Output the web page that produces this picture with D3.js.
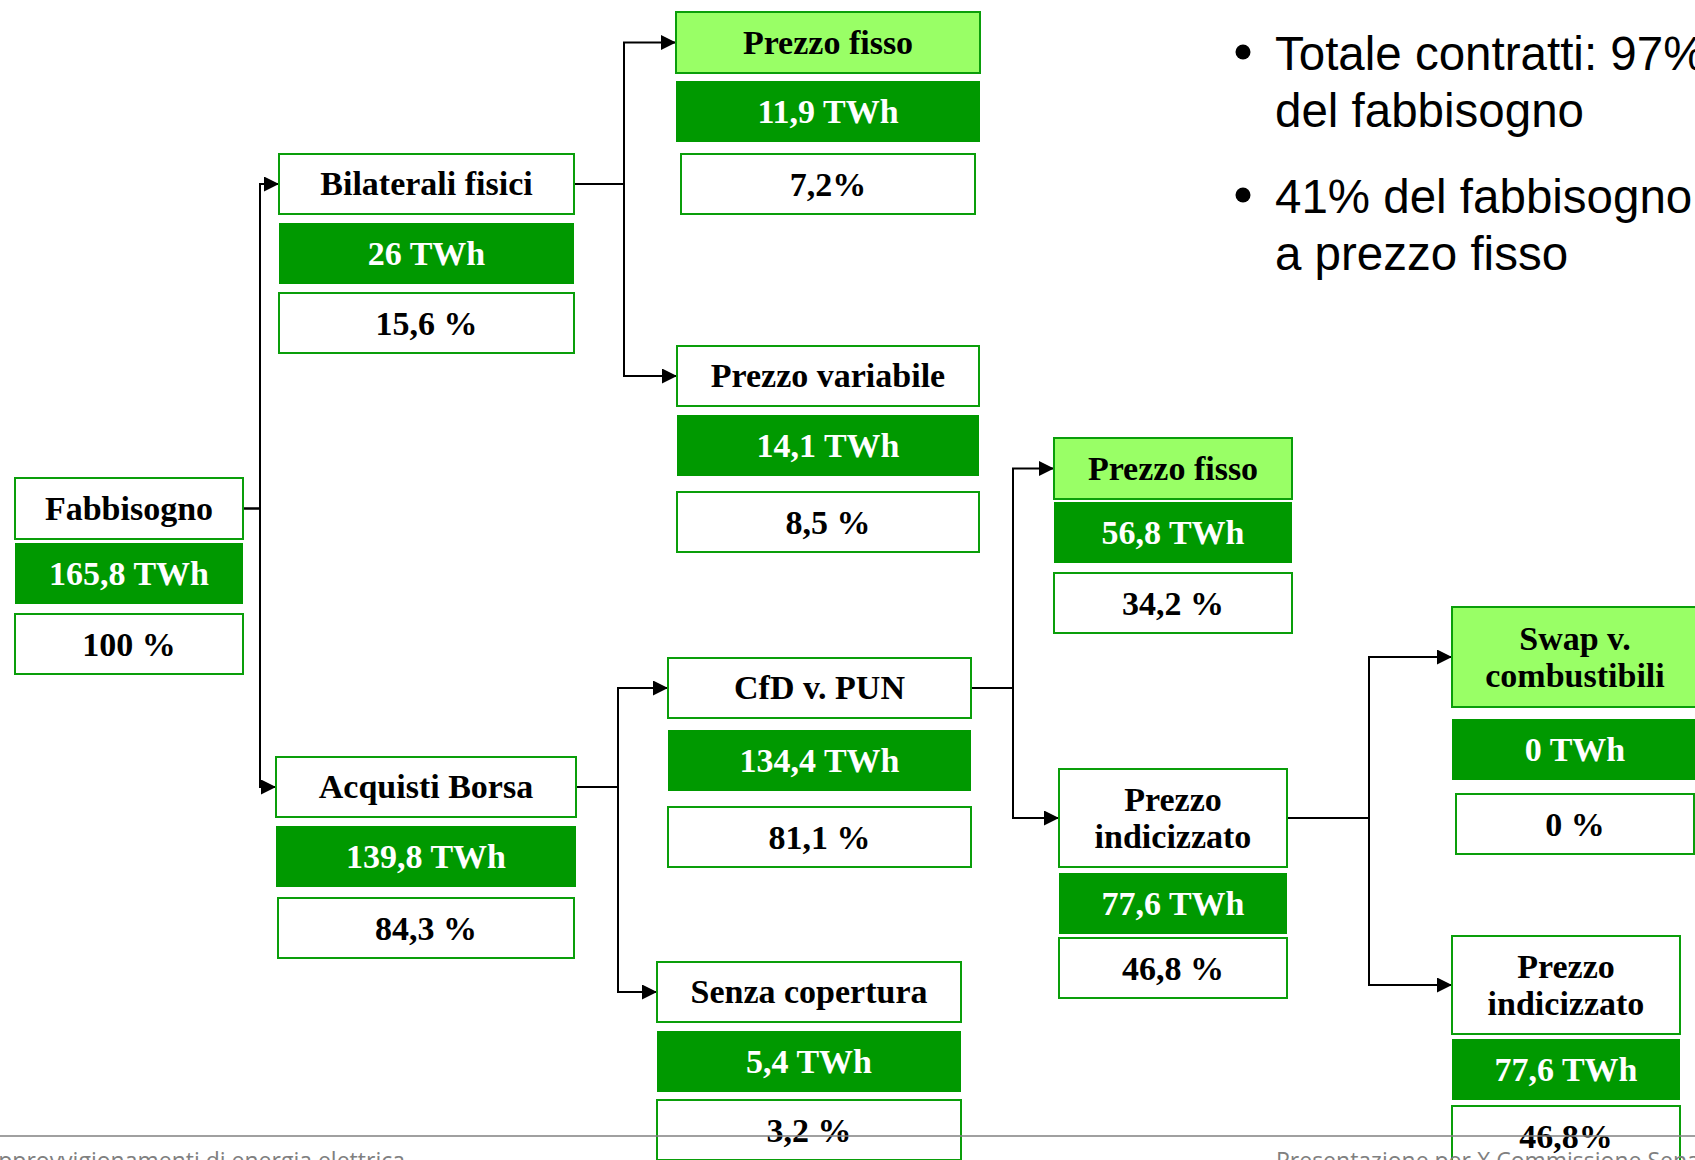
<!DOCTYPE html>
<html lang="it">
  <head>
    <meta charset="utf-8">
    <title>Fabbisogno e coperture</title>
    <script src="https://d3js.org/d3.v7.min.js"></script>
    <style>
      body { margin: 0; background: #fff; }
    </style>
  </head>
  <body>
    <script>
      // data
      var nodeNames = ["Fabbisogno", "Bilaterali fisici", "Acquisti Borsa", "Prezzo fisso", "Prezzo variabile",
        "CfD v. PUN", "Senza copertura", "Prezzo fisso", "Prezzo\nindicizzato", "Swap v.\ncombustibili", "Prezzo\nindicizzato"];
      var energyTWh = [165.8, 26, 139.8, 11.9, 14.1, 134.4, 5.4, 56.8, 77.6, 0, 77.6];
      var shareLabels = ["100 %", "15,6 %", "84,3 %", "7,2%", "8,5 %", "81,1 %", "3,2 %", "34,2 %", "46,8 %", "0 %", "46,8%"];
      var parentOf = [null, 0, 0, 1, 1, 2, 2, 5, 5, 8, 8];
      var fixedPrice = [false, false, false, true, false, false, false, true, false, true, false];
      var notes = [["Totale contratti: 97%", "del fabbisogno"], ["41% del fabbisogno", "a prezzo fisso"]];
      var footerLeft = "Approvvigionamenti di energia elettrica";
      var footerRight = "Presentazione per X Commissione Senato";

      // layout of each node: x, width, title top, title height, value top, pct top, pct inset, elbow x
      var layout = [
        {x: 15,   w: 228, ty: 478, th: 61, vy: 543,  py: 614,  pi: 0, elbow: 260},
        {x: 279,  w: 295, ty: 154, th: 60, vy: 223,  py: 293,  pi: 0, elbow: 624},
        {x: 276,  w: 300, ty: 757, th: 60, vy: 826,  py: 898,  pi: 2, elbow: 618},
        {x: 676,  w: 304, ty: 12,  th: 61, vy: 81,   py: 154,  pi: 5},
        {x: 677,  w: 302, ty: 346, th: 60, vy: 415,  py: 492,  pi: 0},
        {x: 668,  w: 303, ty: 658, th: 60, vy: 730,  py: 807,  pi: 0, elbow: 1013},
        {x: 657,  w: 304, ty: 962, th: 60, vy: 1031, py: 1100, pi: 0},
        {x: 1054, w: 238, ty: 438, th: 61, vy: 502,  py: 573,  pi: 0},
        {x: 1059, w: 228, ty: 769, th: 98, vy: 873,  py: 938,  pi: 0, elbow: 1369},
        {x: 1452, w: 246, ty: 607, th: 100, vy: 719, py: 794,  pi: 4},
        {x: 1452, w: 228, ty: 936, th: 98, vy: 1039, py: 1106, pi: 0}
      ];

      var width = 1695,
      height = 1160,
      boxH = 61,
      fontSize = 34;

      var x = d3.scaleIdentity().domain([0, width]);
      var y = d3.scaleIdentity().domain([0, height]);

      var border = "#0a9e0a",
      darkGreen = "#009900",
      lightGreen = "#99ff66";

      var fmt = function(v) { return String(v).replace(".", ",") + " TWh"; };

      var svg = d3.select("body").append("svg")
        .attr("width", width)
        .attr("height", height);

      svg.append("defs").append("marker")
        .attr("id", "arrow")
        .attr("markerUnits", "userSpaceOnUse")
        .attr("markerWidth", 15)
        .attr("markerHeight", 15)
        .attr("refX", 15)
        .attr("refY", 7.5)
        .attr("orient", "auto")
        .append("path")
        .attr("d", "M0,0 L15,7.5 L0,15 Z")
        .attr("fill", "#000");

      var nodes = nodeNames.map(function(name, i) {
        return {id: String(i), parentId: parentOf[i] == null ? null : String(parentOf[i]),
          name: name, twh: energyTWh[i], share: shareLabels[i], fixed: fixedPrice[i], L: layout[i]};
      });
      var root = d3.stratify()(nodes);

      // connectors
      svg.append("g")
        .selectAll("path")
        .data(root.links())
        .enter().append("path")
        .attr("d", function(d) {
          var p = d.source.data.L, c = d.target.data.L;
          var py = y(p.ty + p.th / 2), cy = y(c.ty + c.th / 2);
          return "M" + x(p.x + p.w) + "," + py + " H" + x(p.elbow) + " V" + cy + " H" + x(c.x);
        })
        .attr("fill", "none")
        .attr("stroke", "#000")
        .attr("stroke-width", 2)
        .attr("marker-end", "url(#arrow)");

      var g = svg.append("g")
        .selectAll("g")
        .data(root.descendants())
        .enter().append("g")
        .style("font-family", "'Liberation Serif', 'Times New Roman', serif")
        .style("font-weight", "bold")
        .style("font-size", fontSize + "px")
        .attr("text-anchor", "middle");

      // title box
      g.append("rect")
        .attr("x", function(d) { return x(d.data.L.x); })
        .attr("y", function(d) { return y(d.data.L.ty); })
        .attr("width", function(d) { return d.data.L.w; })
        .attr("height", function(d) { return d.data.L.th; })
        .attr("fill", function(d) { return d.data.fixed ? lightGreen : "#fff"; })
        .attr("stroke", border)
        .attr("stroke-width", 2);

      g.each(function(d) {
        var L = d.data.L, lines = d.data.name.split("\n");
        var cx = x(L.x + L.w / 2), cy = y(L.ty + L.th / 2);
        var lh = 37;
        var t = d3.select(this).append("text").attr("fill", "#000");
        lines.forEach(function(line, k) {
          t.append("tspan")
            .attr("x", cx)
            .attr("y", cy + 11 + (k - (lines.length - 1) / 2) * lh)
            .text(line);
        });
      });

      // value box
      g.append("rect")
        .attr("x", function(d) { return x(d.data.L.x); })
        .attr("y", function(d) { return y(d.data.L.vy); })
        .attr("width", function(d) { return d.data.L.w; })
        .attr("height", boxH)
        .attr("fill", darkGreen);

      g.append("text")
        .attr("x", function(d) { return x(d.data.L.x + d.data.L.w / 2); })
        .attr("y", function(d) { return y(d.data.L.vy + boxH / 2) + 11; })
        .attr("fill", "#fff")
        .text(function(d) { return fmt(d.data.twh); });

      // share box
      g.append("rect")
        .attr("x", function(d) { return x(d.data.L.x + d.data.L.pi); })
        .attr("y", function(d) { return y(d.data.L.py); })
        .attr("width", function(d) { return d.data.L.w - 2 * d.data.L.pi; })
        .attr("height", boxH - 1)
        .attr("fill", "#fff")
        .attr("stroke", border)
        .attr("stroke-width", 2);

      g.append("text")
        .attr("x", function(d) { return x(d.data.L.x + d.data.L.w / 2); })
        .attr("y", function(d) { return y(d.data.L.py + boxH / 2) + 11; })
        .attr("fill", "#000")
        .text(function(d) { return d.data.share; });

      // bullet notes
      var nb = svg.append("g")
        .style("font-family", "'Liberation Sans', Arial, sans-serif")
        .style("font-size", "47.5px")
        .selectAll("g")
        .data(notes)
        .enter().append("g")
        .attr("transform", function(d, i) { return "translate(0," + (i * 143) + ")"; });

      nb.append("circle")
        .attr("cx", 1243)
        .attr("cy", 52)
        .attr("r", 7.5)
        .attr("fill", "#000");

      nb.append("text")
        .selectAll("tspan")
        .data(function(d) { return d; })
        .enter().append("tspan")
        .attr("x", 1275)
        .attr("y", function(d, i) { return 70 + i * 57; })
        .text(function(d) { return d; });

      // footer
      svg.append("line")
        .attr("x1", 0).attr("x2", width)
        .attr("y1", 1136).attr("y2", 1136)
        .attr("stroke", "#808080")
        .attr("stroke-width", 1.5);

      var foot = svg.append("g")
        .style("font-family", "'Open Sans', sans-serif")
        .style("font-size", "23px")
        .attr("fill", "#808080");
      foot.append("text").attr("x", 405).attr("y", 1169).attr("text-anchor", "end").text(footerLeft);
      foot.append("text").attr("x", 1276).attr("y", 1169).text(footerRight);
    </script>
  </body>
</html>
